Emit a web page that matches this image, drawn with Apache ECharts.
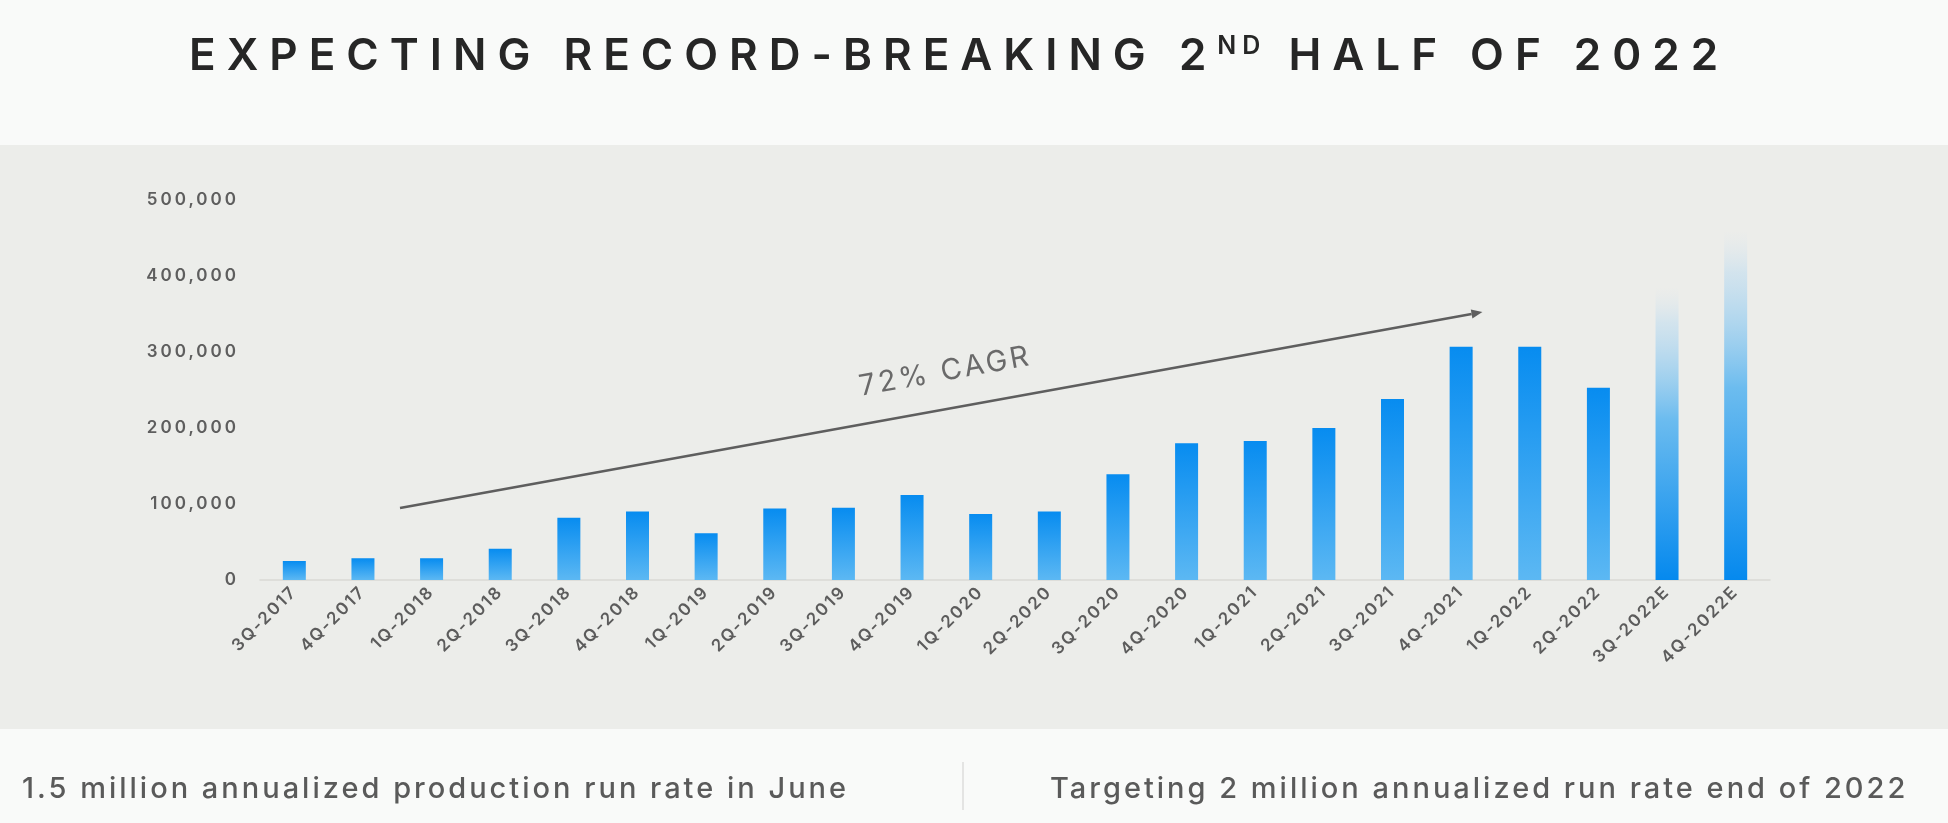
<!DOCTYPE html>
<html>
<head>
<meta charset="utf-8">
<script src="https://cdn.jsdelivr.net/npm/echarts@6/dist/echarts.min.js"></script>
<style>
  html, body { margin: 0; padding: 0; background: #f9faf9; }
  #chart { width: 1948px; height: 823px; }
</style>
</head>
<body>
<div id="chart"></div>
<script>
// ---- letter spacing support (font family marker "LSPn" => n px letter spacing) ----
(function () {
  function patch(P) {
    if (!P) return;
    ['fillText', 'strokeText', 'measureText'].forEach(function (name) {
      var orig = P[name];
      if (!orig) return;
      P[name] = function () {
        var m = /LSP(\d+)/.exec(this.font || '');
        if (m && 'letterSpacing' in this) {
          var prev = this.letterSpacing;
          this.letterSpacing = m[1] + 'px';
          try { return orig.apply(this, arguments); }
          finally { this.letterSpacing = prev; }
        }
        return orig.apply(this, arguments);
      };
    });
  }
  patch(window.CanvasRenderingContext2D && CanvasRenderingContext2D.prototype);
  patch(window.OffscreenCanvasRenderingContext2D && OffscreenCanvasRenderingContext2D.prototype);
})();

// ---- data ----
const categories = ['3Q-2017', '4Q-2017', '1Q-2018', '2Q-2018', '3Q-2018', '4Q-2018', '1Q-2019', '2Q-2019',
  '3Q-2019', '4Q-2019', '1Q-2020', '2Q-2020', '3Q-2020', '4Q-2020', '1Q-2021', '2Q-2021', '3Q-2021',
  '4Q-2021', '1Q-2022', '2Q-2022', '3Q-2022E', '4Q-2022E'];
const production = [25000, 28500, 28500, 41000, 82000, 90000, 61500, 94000, 95000, 112000, 87000, 90000,
  139000, 180000, 183000, 200000, 238000, 307000, 307000, 253000, 385000, 460000];
const yTicks = [0, 100000, 200000, 300000, 400000, 500000];
const titleParts = ['EXPECTING RECORD-BREAKING 2', 'ND', ' HALF OF 2022'];
const cagrLabel = '72% CAGR';
// trend arrow, in data terms: [category position, value]
const cagrFrom = [1.54, 94700];
const cagrTo = [17.31, 352600];
const footLeft = '1.5 million annualized production run rate in June';
const footRight = 'Targeting 2 million annualized run rate end of 2022';

const G = echarts.graphic;
const actualGrad = new G.LinearGradient(0, 0, 0, 1, [
  { offset: 0, color: '#078cf0' },
  { offset: 1, color: '#5cb8f3' }
]);
const estGrad = new G.LinearGradient(0, 0, 0, 1, [
  { offset: 0, color: 'rgba(215,228,238,0)' },
  { offset: 0.12, color: 'rgba(190,220,240,0.55)' },
  { offset: 0.45, color: '#6cbcef' },
  { offset: 1, color: '#0589ee' }
]);

const barData = production.map(function (v, i) {
  const est = /E$/.test(categories[i]);
  return {
    value: v,
    itemStyle: {
      color: est ? estGrad : actualGrad,
      shadowColor: est ? 'rgba(170,230,255,0.5)' : 'rgba(140,225,255,0.9)',
      shadowBlur: est ? 4 : 5
    }
  };
});

const chart = echarts.init(document.getElementById('chart'), null, { renderer: 'canvas' });

const option = {
  backgroundColor: '#f9faf9',
  animation: false,
  title: {
    text: '{a|' + titleParts[0] + '}{s|' + titleParts[1] + '}{a|' + titleParts[2] + '}',
    left: 184,
    top: 26,
    textStyle: {
      rich: {
        a: { fontFamily: 'Inter, LSP11', fontSize: 44, fontWeight: 600, color: '#262626', lineHeight: 52 },
        s: { fontFamily: 'Inter, LSP6', fontSize: 25, fontWeight: 600, color: '#262626', lineHeight: 30, verticalAlign: 'top' }
      }
    }
  },
  grid: { left: 260, right: 178, top: 200, bottom: 243, containLabel: false },
  xAxis: {
    type: 'category',
    data: categories,
    axisTick: { show: false },
    axisLine: { lineStyle: { color: '#d9d9d5', width: 1.5 } },
    axisLabel: {
      rotate: 45,
      margin: 9,
      interval: 0,
      fontFamily: 'Inter, LSP2',
      fontSize: 17,
      fontWeight: 600,
      color: '#5c5c5c'
    }
  },
  yAxis: {
    type: 'value',
    min: yTicks[0],
    max: yTicks[yTicks.length - 1],
    interval: yTicks[1] - yTicks[0],
    splitLine: { show: false },
    axisLine: { show: false },
    axisTick: { show: false },
    axisLabel: {
      margin: 21,
      fontFamily: 'Inter, LSP3',
      fontSize: 17,
      fontWeight: 600,
      color: '#5e5e5e',
      formatter: function (v) { return v.toLocaleString('en-US'); }
    }
  },
  graphic: [
    { type: 'rect', z: -10, silent: true, shape: { x: 0, y: 145, width: 1948, height: 584 },
      style: { fill: '#ecedea' } },
    { type: 'text', left: 22, top: 773, silent: true,
      style: { text: footLeft, fontSize: 29, fontWeight: 500, fontFamily: 'Inter, LSP3', fill: '#5a5a5a' } },
    { type: 'line', silent: true, shape: { x1: 963, y1: 762, x2: 963, y2: 810 },
      style: { stroke: '#dddddb', lineWidth: 1.5 } },
    { type: 'text', left: 1050, top: 773, silent: true,
      style: { text: footRight, fontSize: 29, fontWeight: 500, fontFamily: 'Inter, LSP3', fill: '#5a5a5a' } }
  ],
  series: [{
    type: 'bar',
    data: barData,
    barWidth: 23
  }]
};

chart.setOption(option);

// ---- CAGR arrow annotation, placed through the axes ----
function catPx(pos) {
  const p0 = chart.convertToPixel({ xAxisIndex: 0 }, categories[0]);
  const p1 = chart.convertToPixel({ xAxisIndex: 0 }, categories[1]);
  return p0 + pos * (p1 - p0);
}
function valPx(v) { return chart.convertToPixel({ yAxisIndex: 0 }, v); }

const x1 = catPx(cagrFrom[0]), y1 = valPx(cagrFrom[1]);
const x2 = catPx(cagrTo[0]), y2 = valPx(cagrTo[1]);
const ang = Math.atan2(y1 - y2, x2 - x1);
const ux = Math.cos(ang), uy = -Math.sin(ang);     // along the line (screen)
const nx = -Math.sin(ang), ny = -Math.cos(ang);    // upward normal
const headLen = 11, headW = 4.5;
const hx = x2 - ux * headLen, hy = y2 - uy * headLen;
const t = 0.51, off = 37;
const tx = x1 + (x2 - x1) * t + nx * off;
const ty = y1 + (y2 - y1) * t + ny * off;

chart.setOption({
  graphic: option.graphic.concat([
    { type: 'line', silent: true, shape: { x1: x1, y1: y1, x2: hx, y2: hy },
      style: { stroke: '#5e5e5e', lineWidth: 2.6 } },
    { type: 'polygon', silent: true,
      shape: { points: [[x2, y2], [hx + nx * headW, hy + ny * headW], [hx - nx * headW, hy - ny * headW]] },
      style: { fill: '#5e5e5e' } },
    { type: 'text', silent: true, x: tx, y: ty, rotation: ang,
      style: { text: cagrLabel, fontSize: 29, fontWeight: 400, fontFamily: 'Inter, LSP3', fill: '#6a6a6a', align: 'center', verticalAlign: 'middle' } }
  ])
});
</script>
</body>
</html>
